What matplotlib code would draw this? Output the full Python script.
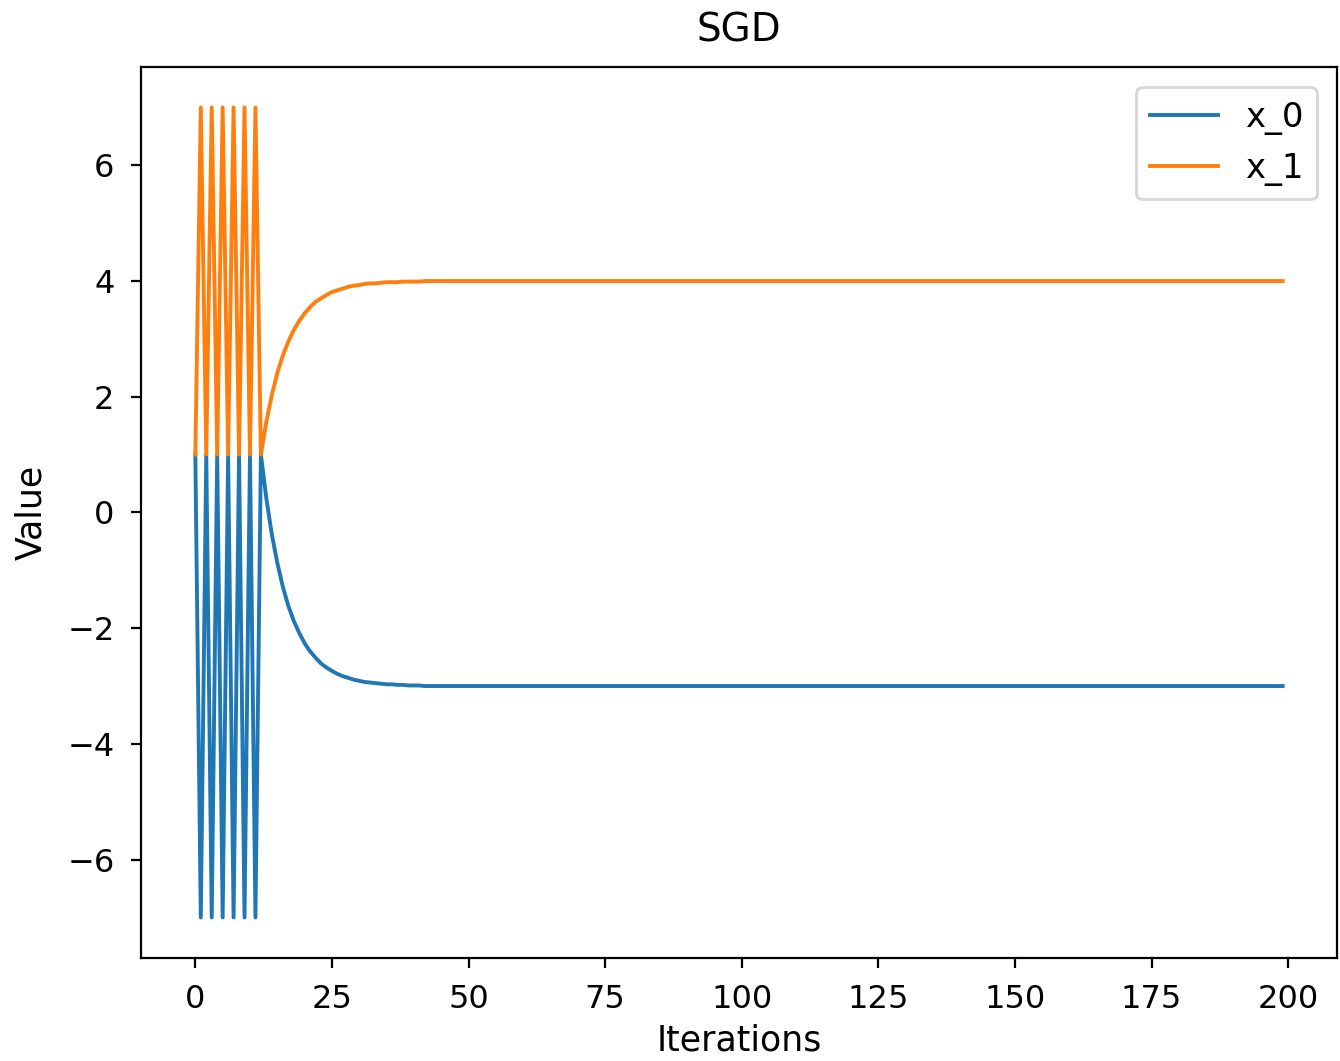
import numpy as np
import matplotlib
matplotlib.use("Agg")
import matplotlib.pyplot as plt

# values, one per iteration (0..199)
x0_values = [
    1.0, -7.0, 1.0, -7.0, 1.0, -7.0, 1.0, -7.0, 1.0, -7.0, 1.0, -7.0,
    1.0, 0.24, -0.38, -0.87, -1.28, -1.61, -1.87, -2.08, -2.26, -2.40,
    -2.51, -2.61, -2.68, -2.74, -2.79, -2.83, -2.86, -2.89, -2.91, -2.93,
    -2.94, -2.95, -2.96, -2.97, -2.97, -2.98, -2.98, -2.99, -2.99, -2.99,
    -3.0, -3.0, -3.0, -3.0, -3.0, -3.0, -3.0, -3.0, -3.0, -3.0, -3.0, -3.0, -3.0, -3.0, -3.0, -3.0, -3.0, -3.0, -3.0, -3.0,
    -3.0, -3.0, -3.0, -3.0, -3.0, -3.0, -3.0, -3.0, -3.0, -3.0, -3.0, -3.0, -3.0, -3.0, -3.0, -3.0, -3.0, -3.0, -3.0, -3.0,
    -3.0, -3.0, -3.0, -3.0, -3.0, -3.0, -3.0, -3.0, -3.0, -3.0, -3.0, -3.0, -3.0, -3.0, -3.0, -3.0, -3.0, -3.0, -3.0, -3.0,
    -3.0, -3.0, -3.0, -3.0, -3.0, -3.0, -3.0, -3.0, -3.0, -3.0, -3.0, -3.0, -3.0, -3.0, -3.0, -3.0, -3.0, -3.0, -3.0, -3.0,
    -3.0, -3.0, -3.0, -3.0, -3.0, -3.0, -3.0, -3.0, -3.0, -3.0, -3.0, -3.0, -3.0, -3.0, -3.0, -3.0, -3.0, -3.0, -3.0, -3.0,
    -3.0, -3.0, -3.0, -3.0, -3.0, -3.0, -3.0, -3.0, -3.0, -3.0, -3.0, -3.0, -3.0, -3.0, -3.0, -3.0, -3.0, -3.0, -3.0, -3.0,
    -3.0, -3.0, -3.0, -3.0, -3.0, -3.0, -3.0, -3.0, -3.0, -3.0, -3.0, -3.0, -3.0, -3.0, -3.0, -3.0, -3.0, -3.0, -3.0, -3.0,
    -3.0, -3.0, -3.0, -3.0, -3.0, -3.0, -3.0, -3.0, -3.0, -3.0, -3.0, -3.0, -3.0, -3.0, -3.0, -3.0, -3.0, -3.0,
]
x1_values = [
    1.0, 7.0, 1.0, 7.0, 1.0, 7.0, 1.0, 7.0, 1.0, 7.0, 1.0, 7.0,
    1.0, 1.57, 2.03, 2.41, 2.71, 2.95, 3.15, 3.31, 3.44, 3.55,
    3.64, 3.70, 3.76, 3.81, 3.84, 3.87, 3.90, 3.92, 3.93, 3.95,
    3.96, 3.96, 3.97, 3.98, 3.98, 3.98, 3.99, 3.99, 3.99, 3.99,
    4.0, 4.0, 4.0, 4.0, 4.0, 4.0, 4.0, 4.0, 4.0, 4.0, 4.0, 4.0, 4.0, 4.0, 4.0, 4.0, 4.0, 4.0, 4.0, 4.0,
    4.0, 4.0, 4.0, 4.0, 4.0, 4.0, 4.0, 4.0, 4.0, 4.0, 4.0, 4.0, 4.0, 4.0, 4.0, 4.0, 4.0, 4.0, 4.0, 4.0,
    4.0, 4.0, 4.0, 4.0, 4.0, 4.0, 4.0, 4.0, 4.0, 4.0, 4.0, 4.0, 4.0, 4.0, 4.0, 4.0, 4.0, 4.0, 4.0, 4.0,
    4.0, 4.0, 4.0, 4.0, 4.0, 4.0, 4.0, 4.0, 4.0, 4.0, 4.0, 4.0, 4.0, 4.0, 4.0, 4.0, 4.0, 4.0, 4.0, 4.0,
    4.0, 4.0, 4.0, 4.0, 4.0, 4.0, 4.0, 4.0, 4.0, 4.0, 4.0, 4.0, 4.0, 4.0, 4.0, 4.0, 4.0, 4.0, 4.0, 4.0,
    4.0, 4.0, 4.0, 4.0, 4.0, 4.0, 4.0, 4.0, 4.0, 4.0, 4.0, 4.0, 4.0, 4.0, 4.0, 4.0, 4.0, 4.0, 4.0, 4.0,
    4.0, 4.0, 4.0, 4.0, 4.0, 4.0, 4.0, 4.0, 4.0, 4.0, 4.0, 4.0, 4.0, 4.0, 4.0, 4.0, 4.0, 4.0, 4.0, 4.0,
    4.0, 4.0, 4.0, 4.0, 4.0, 4.0, 4.0, 4.0, 4.0, 4.0, 4.0, 4.0, 4.0, 4.0, 4.0, 4.0, 4.0, 4.0,
]
labels = ["x_0", "x_1"]

iterations = np.arange(len(x0_values))

fig = plt.figure(figsize=(6.7, 5.305), dpi=200)
ax = fig.add_axes([0.1052, 0.0971, 0.8926, 0.8398])
ax.plot(iterations, x0_values, label=labels[0], lw=1.4)
ax.plot(iterations, x1_values, label=labels[1], lw=1.4)
ax.set_title("SGD", fontsize=14, pad=9)
ax.set_xlabel("Iterations", fontsize=12.5, labelpad=3)
ax.set_ylabel("Value", fontsize=12.5, labelpad=7)
ax.tick_params(labelsize=11.5, pad=6)
ax.legend(loc="upper right", fontsize=12.2, borderaxespad=0.6)
fig.savefig("out.png", dpi=200)
plt.close()
